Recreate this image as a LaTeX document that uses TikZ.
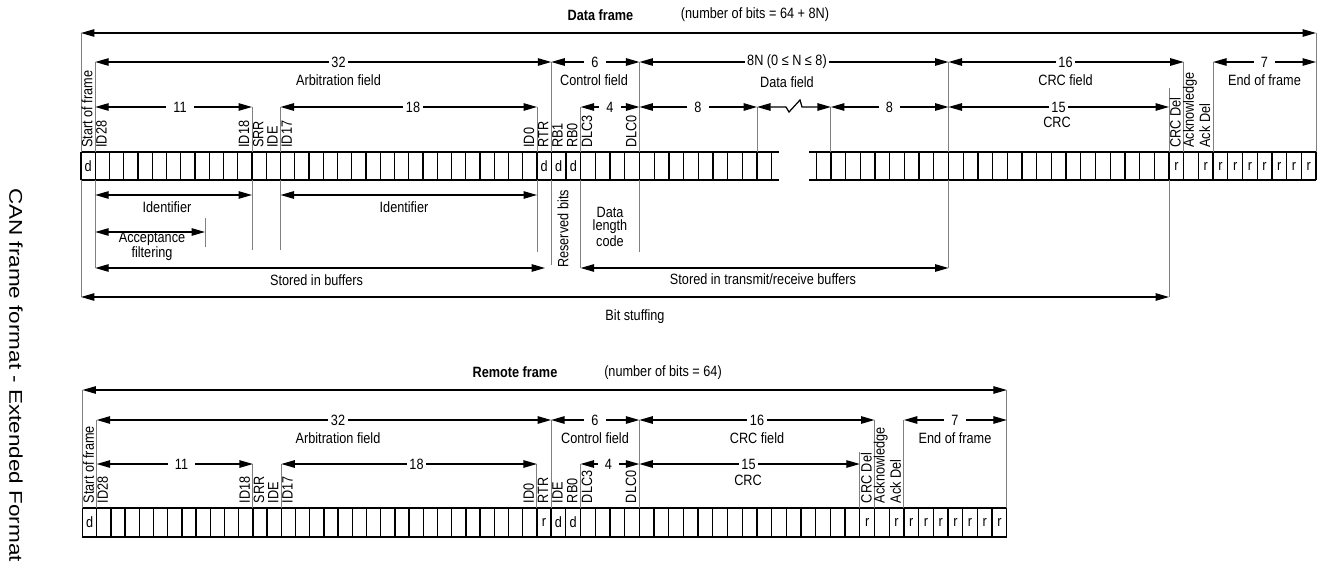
\documentclass[tikz,border=0pt]{standalone}
\usepackage{fontspec}
\setmainfont[FakeStretch=0.85]{Liberation Sans}
\newfontfamily\sidefont[FakeStretch=1.22]{Liberation Sans}
\usetikzlibrary{arrows.meta}
\begin{document}
\begin{tikzpicture}[x=0.02cm,y=-0.02cm,
    font=\fontsize{8.5}{9}\selectfont,
    dim/.style={{Triangle[length=0.27cm,width=0.15cm]}-{Triangle[length=0.27cm,width=0.15cm]},line width=0.7pt},
    ext/.style={gray,line width=0.55pt},
    bitbox/.style={line width=0.75pt},
    num/.style={fill=white,inner xsep=1.5pt,inner ysep=0pt},
    numw/.style={fill=white,inner xsep=4pt,inner ysep=0pt},
    vlab/.style={rotate=90,anchor=west,inner sep=0pt},
    bit/.style={inner sep=0pt},
    declare function={dfx(\i)=ifthenelse(\i<=33,81+14.25*\i,551.25+14.7*(\i-33));
        dfr(\j)=948.5+14.7*\j;
        rfx(\i)=ifthenelse(\i<=33,82.5+14.2*\i,551.1+14.7*(\i-33));}]
    \useasboundingbox (0,0) rectangle (1324,571);
    % side
    \node[rotate=-90,font=\sidefont\fontsize{10.5}{12}\selectfont] (side) at (16,375) {CAN frame format - Extended Format};

    % ---------------- data frame ----------------
    \node[font=\fontsize{8.5}{9}\selectfont\bfseries] (dtitle) at (600.5,15) {Data frame};
    \node (dbits) at (755,15) {(number of bits = 64 + 8N)};
    % bits
    \draw[bitbox] (81,152) -- (779,152);\draw[bitbox] (81,180) -- (779,180);
    \foreach \i in {0,...,48} \draw[bitbox] ({dfx(\i)},152) -- ({dfx(\i)},180);
    \draw[bitbox] (809,152) -- ({dfr(25)},152);\draw[bitbox] (809,180) -- ({dfr(25)},180);
    \foreach \j in {-9,...,25} \draw[bitbox] ({dfr(\j)},152) -- ({dfr(\j)},180);
    \foreach \i in {0,32,33,34} \node[bit] (dd\i) at ({(dfx(\i)+dfx(\i+1))/2},166) {d};
    \foreach \j in {15,17,18,...,24} \node[bit] (dr\j) at ({(dfr(\j)+dfr(\j+1))/2},166) {r};
    % line
    \foreach \i/\t in {0/33,1/62,12/107,14/107,32/107,33/62,35/107,39/62,47/107}
        \draw[ext] ({dfx(\i)},\t) -- ({dfx(\i)},152);
    \foreach \j/\t in {-8/107,0/62,15/88,16/62,18/62,25/33}
        \draw[ext] ({dfr(\j)},\t) -- ({dfr(\j)},152);
    \foreach \i/\t in {0/297,1/268,12/250,14/250,32/252,33/265,35/268,39/252}
        \draw[ext] ({dfx(\i)},180) -- ({dfx(\i)},\t);
    \draw[ext] ({dfr(0)},180) -- ({dfr(0)},268);\draw[ext] ({dfr(15)},180) -- ({dfr(15)},297);
    \draw[ext] (205,218) -- (205,247);
    % arrows
    \draw[dim] ({dfx(0)},33) -- ({dfr(25)},33);
    \draw[dim] ({dfx(1)},62) -- ({dfx(33)},62);\draw[dim] ({dfx(33)},62) -- ({dfx(39)},62);
    \draw[dim] ({dfx(39)},62) -- ({dfr(0)},62);\draw[dim] ({dfr(0)},62) -- ({dfr(16)},62);
    \draw[dim] ({dfr(18)},62) -- ({dfr(25)},62);
    \draw[dim] ({dfx(1)},107) -- ({dfx(12)},107);\draw[dim] ({dfx(14)},107) -- ({dfx(32)},107);
    \draw[dim] ({dfx(35)},107) -- ({dfx(39)},107);\draw[dim] ({dfx(39)},107) -- ({dfx(47)},107);
    \draw[dim] ({dfx(47)},107) -- (786,107) -- (789,112) -- (800,100) -- (802,107) -- ({dfr(-8)},107);
    \draw[dim] ({dfr(-8)},107) -- ({dfr(0)},107);\draw[dim] ({dfr(0)},107) -- ({dfr(15)},107);
    \draw[dim] ({dfx(1)},195) -- ({dfx(12)},195);\draw[dim] ({dfx(14)},195) -- ({dfx(32)},195);
    \draw[dim] ({dfx(1)},232) -- (205,232);
    \draw[dim] ({dfx(1)},268) -- (545,268);\draw[dim] ({dfx(35)},268) -- ({dfr(0)},268);
    \draw[dim] ({dfx(0)},297) -- ({dfr(15)},297);
    % lecter
    \node[num] (d32) at (338.5,62) {32};\node (darb) at (338.5,80) {Arbitration field};
    \node[numw] (d6) at (595,62) {6};\node (dctl) at (594,80) {Control field};
    \node[num] (d8n) at (787,62) {8N (0 ≤ N ≤ 8)};\node (ddat) at (787,82) {Data field};
    \node[num] (d16) at (1065.5,62) {16};\node (dcrcf) at (1065.5,80) {CRC field};
    \node[numw] (d7) at (1264.5,62) {7};\node (deof) at (1264.5,80) {End of frame};
    \node[numw] (d11) at (180,107) {11};\node[num] (d18) at (413,107) {18};
    \node[numw] (d4) at (610,107) {4};
    \node[numw] (d8a) at (698,107) {8};\node[numw] (d8b) at (889.5,107) {8};
    \node[num] (d15) at (1058.5,107) {15};\node (dcrc) at (1057,122) {CRC};
    \foreach \i/\t in {0/Start of frame,1/ID28,11/ID18,12/SRR,13/IDE,14/ID17,31/ID0,32/RTR,33/RB1,34/RB0,35/DLC3,38/DLC0}
        \node[vlab] (dv\i) at ({(dfx(\i)+dfx(\i+1))/2-1},148) {\t};
    \foreach \j/\t in {15/CRC Del,16/Acknowledge,17/Ack Del}
        \node[vlab] (dw\j) at ({(dfr(\j)+dfr(\j+1))/2-1},148) {\t};
    \node (did1) at (167,207) {Identifier};\node (did2) at (404,207) {Identifier};
    \node[align=center,font=\fontsize{8.5}{6.8}\selectfont] (dacc) at (152,246.5) {Acceptance\\filtering};
    \node (dsto) at (316.5,280) {Stored in buffers};
    \node[vlab] (dres) at (563,268) {Reserved bits};
    \node[align=center,font=\fontsize{8.5}{7.4}\selectfont] (ddlc) at (610,227) {Data\\length\\code};
    \node (dtrx) at (763,279.5) {Stored in transmit/receive buffers};
    \node (dstuff) at (635,316.5) {Bit stuffing};

    % ---------------- remote frame ----------------
    \node[font=\fontsize{8.5}{9}\selectfont\bfseries] (rtitle) at (515,372) {Remote frame};
    \node (rbits) at (663,373) {(number of bits = 64)};
    % bits
    \draw[bitbox] ({rfx(0)},508) rectangle ({rfx(64)},537);
    \foreach \i in {1,...,63} \draw[bitbox] ({rfx(\i)},508) -- ({rfx(\i)},537);
    \foreach \i/\c in {0/d,32/r,33/d,34/d,54/r,56/r,57/r,58/r,59/r,60/r,61/r,62/r,63/r}
        \node[bit] (rb\i) at ({(rfx(\i)+rfx(\i+1))/2},522.5) {\c};
    % line
    \foreach \i/\t in {0/390,1/420,12/464,14/464,32/464,33/420,35/464,39/420,54/452,55/420,57/420,64/390}
        \draw[ext] ({rfx(\i)},\t) -- ({rfx(\i)},508);
    % arrows
    \draw[dim] ({rfx(0)},390) -- ({rfx(64)},390);
    \draw[dim] ({rfx(1)},420) -- ({rfx(33)},420);\draw[dim] ({rfx(33)},420) -- ({rfx(39)},420);
    \draw[dim] ({rfx(39)},420) -- ({rfx(55)},420);\draw[dim] ({rfx(57)},420) -- ({rfx(64)},420);
    \draw[dim] ({rfx(1)},464) -- ({rfx(12)},464);\draw[dim] ({rfx(14)},464) -- ({rfx(32)},464);
    \draw[dim] ({rfx(35)},464) -- ({rfx(39)},464);\draw[dim] ({rfx(39)},464) -- ({rfx(54)},464);
    % lecter
    \node[num] (r32) at (338,420) {32};\node (rarb) at (338,438) {Arbitration field};
    \node[numw] (r6) at (595,420) {6};\node (rctl) at (595,438) {Control field};
    \node[num] (r16) at (757,420) {16};\node (rcrcf) at (757,438) {CRC field};
    \node[numw] (r7) at (955,420) {7};\node (reof) at (955,438) {End of frame};
    \node[numw] (r11) at (181.5,464) {11};\node[num] (r18) at (416.5,464) {18};
    \node[numw] (r4) at (608.5,464) {4};
    \node[num] (r15) at (748.5,464) {15};\node (rcrc) at (748,480) {CRC};
    \foreach \i/\t in {0/Start of frame,1/ID28,11/ID18,12/SRR,13/IDE,14/ID17,31/ID0,32/RTR,33/IDE,34/RB0,35/DLC3,38/DLC0,54/CRC Del,55/Acknowledge,56/Ack Del}
        \node[vlab] (rv\i) at ({(rfx(\i)+rfx(\i+1))/2-1},503.5) {\t};
\end{tikzpicture}
\end{document}
